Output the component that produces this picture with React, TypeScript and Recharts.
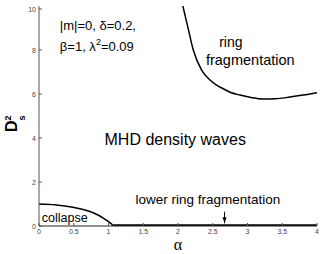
import React from "react";
import { ComposedChart, Line, XAxis, YAxis, ReferenceDot } from "recharts";

const upperAlpha = [2.07, 2.14, 2.22, 2.34, 2.46, 2.55, 2.65, 2.75, 2.89, 3.05, 3.22, 3.4, 3.61, 3.8, 4.0];
const upperD = [10, 9.06, 8.0, 7.09, 6.64, 6.42, 6.24, 6.08, 5.95, 5.84, 5.77, 5.78, 5.86, 5.95, 6.06];
const lowerAlpha = [0, 0.25, 0.49, 0.65, 0.78, 0.93, 1.0, 1.07];
const lowerD = [1.0, 0.96, 0.85, 0.74, 0.6, 0.35, 0.2, 0.02];
const flatAlpha = [1.07, 4];
const flatD = [0.03, 0.03];
const arrowAlpha = [2.67, 2.67];
const arrowD = [0.65, 0.12];
const xTicks = [0, 0.5, 1, 1.5, 2, 2.5, 3, 3.5, 4];
const yTicks = [0, 1, 2, 3, 4, 5, 6, 7, 8, 9, 10];

const toPts = (xs: number[], ys: number[]) => xs.map((a, i) => ({ a, d: ys[i] }));
const upper = toPts(upperAlpha, upperD);
const lower = toPts(lowerAlpha, lowerD);
const flat = toPts(flatAlpha, flatD);
const arrow = toPts(arrowAlpha, arrowD);

const FONT = "'Liberation Sans', Arial, Helvetica, sans-serif";

type Ann = { text: string; a: number; d: number; size: number; anchor: string; sup?: string; after?: string };
const annotations: Ann[] = [
  { text: "|m|=0, δ=0.2,", a: 0.3, d: 8.89, size: 13, anchor: "start" },
  { text: "β=1, λ", sup: "2", after: "=0.09", a: 0.3, d: 7.97, size: 13, anchor: "start" },
  { text: "ring", a: 2.76, d: 8.12, size: 14, anchor: "middle" },
  { text: "fragmentation", a: 3.04, d: 7.3, size: 14.5, anchor: "middle" },
  { text: "MHD density waves", a: 1.96, d: 3.68, size: 16, anchor: "middle" },
  { text: "lower ring fragmentation", a: 2.43, d: 0.98, size: 13.5, anchor: "middle" },
  { text: "collapse", a: 0.04, d: 0.2, size: 12.5, anchor: "start" },
];

const XTick = (p: any) => {
  const axisY = p.y - 6;
  return (
    <g>
      <line x1={p.x} x2={p.x} y1={axisY} y2={axisY - 3} stroke="#555" strokeWidth={1} />
      <text x={p.x} y={axisY + 8} textAnchor="middle" fontSize={7} fill="#444" fontFamily={FONT}>
        {p.payload.value}
      </text>
    </g>
  );
};
const YTick = (p: any) => {
  const axisX = p.x + 3;
  return (
    <g>
      <line x1={axisX} x2={axisX + 3} y1={p.y} y2={p.y} stroke="#555" strokeWidth={1} />
      <text x={axisX - 3} y={p.y + 2.5} textAnchor="end" fontSize={7} fill="#444" fontFamily={FONT}>
        {p.payload.value}
      </text>
    </g>
  );
};
const TopTick = (p: any) => (
  <line x1={p.x} x2={p.x} y1={p.y} y2={p.y + 3} stroke="#555" strokeWidth={1} />
);
const RightTick = (p: any) => (
  <line x1={p.x} x2={p.x - 3} y1={p.y} y2={p.y} stroke="#555" strokeWidth={1} />
);

const ArrowDot = (p: any) => {
  if (p.index !== 1) return <g key={p.index} />;
  return (
    <path key={p.index} d={`M${p.cx - 2},${p.cy - 6} L${p.cx + 2},${p.cy - 6} L${p.cx},${p.cy} Z`} fill="#000" />
  );
};

const YLabel = (props: any) => {
  const vb = props.viewBox || { x: 0, y: 6, width: 39, height: 220 };
  const cy = vb.y + vb.height / 2 + 16;
  return (
    <text transform={`translate(17, ${cy}) rotate(-90)`} fontFamily={FONT} fontWeight="bold" fontSize={16} fill="#000">
      D
      <tspan fontSize={9} dy={-6}>2</tspan>
      <tspan fontSize={9} dx={-5} dy={14}>s</tspan>
    </text>
  );
};

export default function App() {
  return (
    <div style={{ position: "absolute", left: 0, top: 0, width: 322, height: 254, background: "#fff" }}>
      <ComposedChart width={322} height={254} margin={{ top: 6, right: 5, left: 0, bottom: 0 }}>
        <XAxis
          dataKey="a"
          type="number"
          domain={[0, 4]}
          ticks={xTicks}
          height={28}
          tickSize={0}
          tickMargin={6}
          tick={XTick}
          axisLine={{ stroke: "#222" }}
          allowDataOverflow
          label={{ value: "α", position: "insideBottom", offset: 4, fontSize: 16, fontFamily: "'Liberation Serif', 'Times New Roman', serif", fill: "#000" }}
        />
        <XAxis
          xAxisId="top"
          orientation="top"
          type="number"
          domain={[0, 4]}
          ticks={xTicks}
          height={0}
          tickSize={0}
          tickMargin={0}
          tick={TopTick}
          axisLine={{ stroke: "#222" }}
          allowDataOverflow
        />
        <YAxis
          type="number"
          domain={[0, 10]}
          ticks={yTicks}
          width={39}
          tickSize={0}
          tickMargin={3}
          tick={YTick}
          axisLine={{ stroke: "#555" }}
          allowDataOverflow
          label={{ content: YLabel }}
        />
        <YAxis
          yAxisId="right"
          orientation="right"
          type="number"
          domain={[0, 10]}
          ticks={yTicks}
          width={0}
          tickSize={0}
          tickMargin={0}
          tick={RightTick}
          axisLine={{ stroke: "#888", strokeWidth: 2 }}
          allowDataOverflow
        />
        <Line data={upper} dataKey="d" type="monotone" stroke="#000" strokeWidth={1.5} dot={false} isAnimationActive={false} />
        <Line data={lower} dataKey="d" type="monotone" stroke="#000" strokeWidth={1.5} dot={false} isAnimationActive={false} />
        <Line data={flat} dataKey="d" type="linear" stroke="#000" strokeWidth={2} dot={false} isAnimationActive={false} />
        <Line data={arrow} dataKey="d" type="linear" stroke="#000" strokeWidth={1} dot={ArrowDot} isAnimationActive={false} />
        {annotations.map((an, i) => (
          <ReferenceDot
            key={i}
            x={an.a}
            y={an.d}
            r={0}
            ifOverflow="visible"
            shape={(p: any) => (
              <text x={p.cx} y={p.cy} textAnchor={an.anchor as any} fontSize={an.size} fontFamily={FONT} fill="#000">
                {an.text}
                {an.sup ? <tspan fontSize={an.size * 0.7} dy={-6}>{an.sup}</tspan> : null}
                {an.after ? <tspan dy={6}>{an.after}</tspan> : null}
              </text>
            )}
          />
        ))}
      </ComposedChart>
    </div>
  );
}
